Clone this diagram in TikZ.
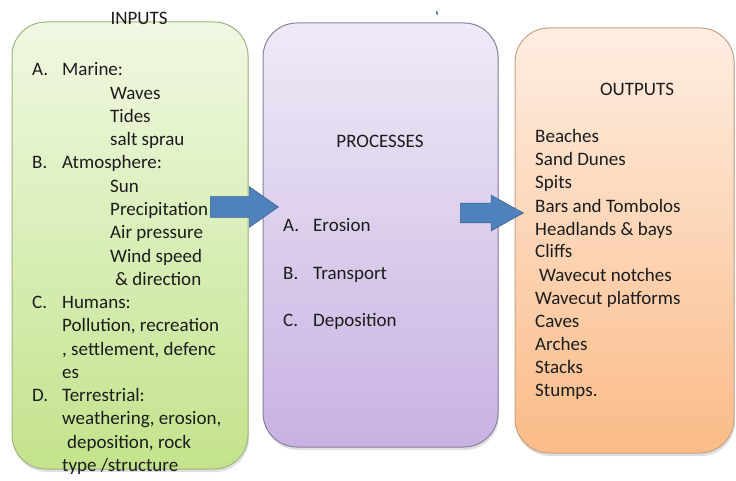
\documentclass[tikz,border=0pt]{standalone}
\usepackage{fontspec}
\setmainfont{Carlito}
\usetikzlibrary{shapes.arrows}
\usetikzlibrary{shadows}
\definecolor{ingreentop}{HTML}{F0F8E2}
\definecolor{ingreen}{HTML}{C3E38C}
\definecolor{ingreenline}{HTML}{9DB47E}
\definecolor{procpurpletop}{HTML}{EFEAF7}
\definecolor{procpurple}{HTML}{C7B2E2}
\definecolor{procpurpleline}{HTML}{8C7FA0}
\definecolor{outorangetop}{HTML}{FEEEE2}
\definecolor{outorange}{HTML}{FABB88}
\definecolor{outorangeline}{HTML}{C6A286}
\definecolor{flowblue}{HTML}{4F81BD}
\definecolor{flowline}{HTML}{3A6496}
\definecolor{textgray}{HTML}{1C1C1C}
\tikzstyle{stage}=[draw, line width=1pt, rounded corners=34pt, inner sep=0pt,
  drop shadow={shadow xshift=1pt, shadow yshift=-3pt, opacity=0.25}]
\tikzstyle{item}=[anchor=base west, inner sep=0pt, text=textgray, font=\fontsize{19}{22}\selectfont]
\tikzstyle{heading}=[item, anchor=base]
\tikzstyle{flow}=[single arrow, draw=flowline, fill=flowblue, inner xsep=0pt, line width=0.6pt, anchor=tail]

\begin{document}
\begin{tikzpicture}[x=1pt, y=-1pt]
        \useasboundingbox (0, 0) rectangle (736, 481);
        % the three boxes
        \node[stage, draw=ingreenline, top color=ingreentop, bottom color=ingreen,
              minimum width=236pt, minimum height=447pt]     (inputs) at (130, 245.5) {};
        \node[stage, draw=procpurpleline, top color=procpurpletop, bottom color=procpurple,
              minimum width=235pt, minimum height=424pt]     (processes) at (380.5, 235) {};
        \node[stage, draw=outorangeline, top color=outorangetop, bottom color=outorange,
              minimum width=219pt, minimum height=425pt]     (outputs) at (624.5, 240.5) {};
        % headings
        \node[heading] (inputstitle)    at (139, 25)  {INPUTS};
        \node[heading] (processestitle) at (380, 148) {PROCESSES};
        \node[heading] (outputstitle)   at (637, 96)  {OUTPUTS};
        % inputs list
        \foreach \x/\txt [count=\i from 0] in {
                32/{\makebox[30pt][l]{A.}Marine:}, 110/Waves, 110/Tides, 110/{salt sprau},
                32/{\makebox[30pt][l]{B.}Atmosphere:}, 110/Sun, 110/Precipitation,
                110/{Air pressure}, 110/{Wind speed}, 115/{\& direction},
                32/{\makebox[30pt][l]{C.}Humans:}, 62/{Pollution, recreation},
                62/{, settlement, defenc}, 62/es,
                32/{\makebox[30pt][l]{D.}Terrestrial:}, 62/{weathering, erosion,},
                67/{deposition, rock}, 62/{type /structure}}
            \node[item] (in\i) at (\x, 76 + 23.25*\i) {\txt};
        % processes list
        \foreach \lbl/\txt [count=\i from 0] in {A./Erosion, B./Transport, C./Deposition}
            \node[item] (proc\i) at (283, 232 + 47*\i) {\makebox[30pt][l]{\lbl}\txt};
        % outputs list
        \foreach \x/\txt [count=\i from 0] in {
                535/Beaches, 535/{Sand Dunes}, 535/Spits, 535/{Bars and Tombolos},
                535/{Headlands \& bays}, 535/Cliffs, 539/{Wavecut notches},
                535/{Wavecut platforms}, 535/Caves, 535/Arches, 535/Stacks, 535/Stumps.}
            \node[item] (out\i) at (\x, 143 + 23*\i) {\txt};
        % flow arrows
        \node[flow, inner ysep=10pt, single arrow head extend=10pt,
              single arrow tip angle=70, minimum height=68pt]  (inflow) at (210, 207) {};
        \node[flow, inner ysep=9.5pt, single arrow head extend=8pt,
              single arrow tip angle=58, minimum height=63pt]  (outflow) at (460, 213) {};
        \fill[flowblue, rotate around={20:(437, 13)}] (437, 13) ellipse (1pt and 2.2pt);
    \end{tikzpicture}
\end{document}
